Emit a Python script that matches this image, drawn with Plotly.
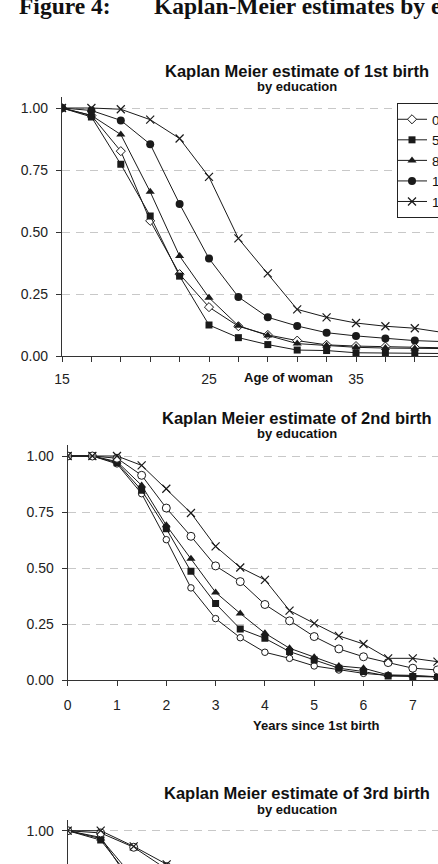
import plotly.graph_objects as go

# ---------------- data ----------------
AGE = [15, 17, 19, 21, 23, 25, 27, 29, 31, 33, 35, 37, 39, 41]
AGE_TICK_LABELS = ["15", "", "", "", "", "25", "", "", "", "", "35", "", "", ""]
KM1_EDU0 = [1.00, 0.97, 0.826, 0.545, 0.33, 0.197, 0.12, 0.085, 0.062, 0.045, 0.04, 0.038, 0.035, 0.033]
KM1_EDU5 = [1.00, 0.964, 0.773, 0.565, 0.322, 0.125, 0.074, 0.046, 0.024, 0.022, 0.013, 0.012, 0.01, 0.01]
KM1_EDU8 = [1.00, 0.97, 0.893, 0.662, 0.403, 0.235, 0.122, 0.083, 0.05, 0.042, 0.035, 0.032, 0.03, 0.03]
KM1_EDU10 = [1.00, 0.99, 0.95, 0.854, 0.613, 0.393, 0.238, 0.156, 0.121, 0.094, 0.081, 0.071, 0.062, 0.058]
KM1_EDU12 = [1.00, 1.00, 0.995, 0.953, 0.877, 0.722, 0.474, 0.333, 0.188, 0.156, 0.133, 0.12, 0.112, 0.094]

YRS2 = [0, 0.5, 1, 1.5, 2, 2.5, 3, 3.5, 4, 4.5, 5, 5.5, 6, 6.5, 7, 7.5, 8]
YRS2_TICKS = [0, 1, 2, 3, 4, 5, 6, 7, 8]
KM2_X = [1, 1, 1.0, 0.958, 0.854, 0.746, 0.597, 0.503, 0.448, 0.311, 0.254, 0.198, 0.162, 0.098, 0.098, 0.083, 0.08]
KM2_O = [1, 1, 0.99, 0.914, 0.768, 0.642, 0.510, 0.440, 0.338, 0.265, 0.195, 0.140, 0.105, 0.079, 0.054, 0.046, 0.04]
KM2_TRI = [1, 1, 0.975, 0.869, 0.691, 0.542, 0.392, 0.298, 0.210, 0.143, 0.103, 0.064, 0.054, 0.024, 0.022, 0.015, 0.014]
KM2_SQ = [1, 1, 0.97, 0.847, 0.676, 0.486, 0.342, 0.229, 0.187, 0.128, 0.091, 0.054, 0.039, 0.019, 0.017, 0.013, 0.012]
KM2_SO = [1, 1, 0.965, 0.832, 0.627, 0.412, 0.275, 0.190, 0.125, 0.098, 0.064, 0.046, 0.031, 0.022, 0.018, 0.015, 0.014]

YRS3 = [0, 0.5, 1, 1.5, 2, 2.5, 3]
KM3_X = [1, 1, 0.93, 0.85, 0.74, 0.62, 0.52]
KM3_O = [1, 0.99, 0.926, 0.84, 0.73, 0.61, 0.50]
KM3_TRI = [1, 0.965, 0.79, 0.62, 0.48, 0.37, 0.28]
KM3_SQ = [1, 0.958, 0.77, 0.60, 0.45, 0.34, 0.26]
KM3_SO = [1, 0.97, 0.75, 0.57, 0.42, 0.31, 0.23]

EDU_NAMES = ["0 years", "5 years", "8 years", "10 years", "12+ years"]
Y_TICKS = [0, 0.25, 0.5, 0.75, 1.0]

# ---------------- layout helpers ----------------
W, H = 438, 864
FONT = "Liberation Sans, Arial, sans-serif"
LINE = "#1a1a1a"


def px_x(x):
    return x / W


def px_y(y):
    return 1 - y / H


fig = go.Figure()

MK = {
    "diamond": dict(symbol="diamond", size=7, color="white", line=dict(color=LINE, width=1)),
    "square": dict(symbol="square", size=7, color=LINE, line=dict(color=LINE, width=0)),
    "triangle": dict(symbol="triangle-up", size=8, color=LINE, line=dict(color=LINE, width=0)),
    "circle": dict(symbol="circle", size=8, color=LINE, line=dict(color=LINE, width=0)),
    "x": dict(symbol="x-thin", size=8, color=LINE, line=dict(color=LINE, width=1.2)),
    "ocircle": dict(symbol="circle", size=8, color="white", line=dict(color=LINE, width=1)),
    "socircle": dict(symbol="circle", size=6.5, color="white", line=dict(color=LINE, width=1)),
}


def add(x, y, mk, xa, ya, name=None, show=False):
    fig.add_trace(go.Scatter(
        x=x, y=y, mode="lines+markers", name=name, showlegend=show,
        line=dict(color=LINE, width=1), marker=MK[mk], xaxis=xa, yaxis=ya,
        cliponaxis=True))


# chart 1
for y, mk, nm in [(KM1_EDU0, "diamond", EDU_NAMES[0]), (KM1_EDU5, "square", EDU_NAMES[1]),
                  (KM1_EDU8, "triangle", EDU_NAMES[2]), (KM1_EDU10, "circle", EDU_NAMES[3]),
                  (KM1_EDU12, "x", EDU_NAMES[4])]:
    add(AGE, y, mk, "x", "y", nm, True)

# chart 2
for y, mk in [(KM2_SO, "socircle"), (KM2_SQ, "square"), (KM2_TRI, "triangle"),
              (KM2_O, "ocircle"), (KM2_X, "x")]:
    add(YRS2, y, mk, "x2", "y2")

# chart 3
for y, mk in [(KM3_SO, "socircle"), (KM3_SQ, "square"), (KM3_TRI, "triangle"),
              (KM3_O, "ocircle"), (KM3_X, "x")]:
    add(YRS3, y, mk, "x3", "y3")

axis_common = dict(showline=True, linecolor="#333", linewidth=1.3, ticks="outside",
                   ticklen=5, tickcolor="#333", tickwidth=1.3,
                   tickfont=dict(family=FONT, size=14, color="#222"),
                   zeroline=False, fixedrange=True)
yaxis_common = dict(axis_common, showgrid=True, gridcolor="#c8c8c8", gridwidth=1,
                    griddash="8px,6px", tickvals=Y_TICKS, tickformat=".2f",
                    ticklabelstandoff=5)

fig.update_layout(
    xaxis=dict(axis_common, domain=[px_x(62), 1], range=[15, 15 + (438 - 62) / 14.7],
               tickvals=AGE, ticktext=AGE_TICK_LABELS, showgrid=False, anchor="y",
               ticklabelstandoff=5),
    yaxis=dict(yaxis_common, domain=[px_y(356), px_y(96.7)], range=[0, 1 + (108 - 96.7) / 248],
               anchor="x"),
    xaxis2=dict(axis_common, domain=[px_x(67.7), 1], range=[0, (438 - 67.7) / 49.3],
                tickvals=YRS2_TICKS, showgrid=False, anchor="y2", ticklabelstandoff=7),
    yaxis2=dict(yaxis_common, domain=[px_y(680.3), px_y(445)], range=[0, 1 + 11 / 224],
                anchor="x2"),
    xaxis3=dict(domain=[px_x(67.7), 1], range=[0, (438 - 67.7) / 66], showline=False,
                showticklabels=False, ticks="", showgrid=False, zeroline=False, anchor="y3",
                fixedrange=True),
    yaxis3=dict(yaxis_common, domain=[0, px_y(819.7)],
                range=[1 - (864 - 830.7) / 224, 1 + 11 / 224], anchor="x3"),
)

HEAD_FONT = dict(family="Liberation Serif, Times New Roman, serif", size=23.5, color="#111")
annotations = [
    dict(text="<b>Figure 4:</b>", x=px_x(17), y=px_y(6), xanchor="left", yanchor="middle",
         font=HEAD_FONT),
    dict(text="<b>Kaplan-Meier estimates by education</b>", x=px_x(152), y=px_y(6),
         xanchor="left", yanchor="middle", font=HEAD_FONT),
]
for title, ty, sy in [("Kaplan Meier estimate of 1st birth", 71, 87),
                      ("Kaplan Meier estimate of 2nd birth", 417.5, 433),
                      ("Kaplan Meier estimate of 3rd birth", 793, 809)]:
    annotations.append(dict(text="<b>" + title + "</b>", x=px_x(297), y=px_y(ty), xanchor="center",
                            yanchor="middle", font=dict(family=FONT, size=16.5, color="#111")))
    annotations.append(dict(text="<b>by education</b>", x=px_x(297), y=px_y(sy), xanchor="center",
                            yanchor="middle", font=dict(family=FONT, size=13, color="#111")))
annotations.append(dict(text="<b>Age of woman</b>", x=px_x(288), y=px_y(377), xanchor="center",
                        yanchor="middle", font=dict(family=FONT, size=13, color="#111")))
annotations.append(dict(text="<b>Years since 1st birth</b>", x=px_x(316), y=px_y(725),
                        xanchor="center", yanchor="middle",
                        font=dict(family=FONT, size=13, color="#111")))
for a in annotations:
    a.update(xref="paper", yref="paper", showarrow=False)

fig.update_layout(
    width=W, height=H,
    margin=dict(l=0, r=0, t=0, b=0, autoexpand=False),
    paper_bgcolor="white", plot_bgcolor="white",
    annotations=annotations,
    showlegend=True,
    legend=dict(x=px_x(397), y=px_y(103), xanchor="left", yanchor="top",
                bordercolor="#222", borderwidth=1, bgcolor="white",
                font=dict(family=FONT, size=13.5, color="#111"),
                indentation=-6, traceorder="normal"),
    font=dict(family=FONT),
)

fig.write_html("out.html", config={"displayModeBar": False})
